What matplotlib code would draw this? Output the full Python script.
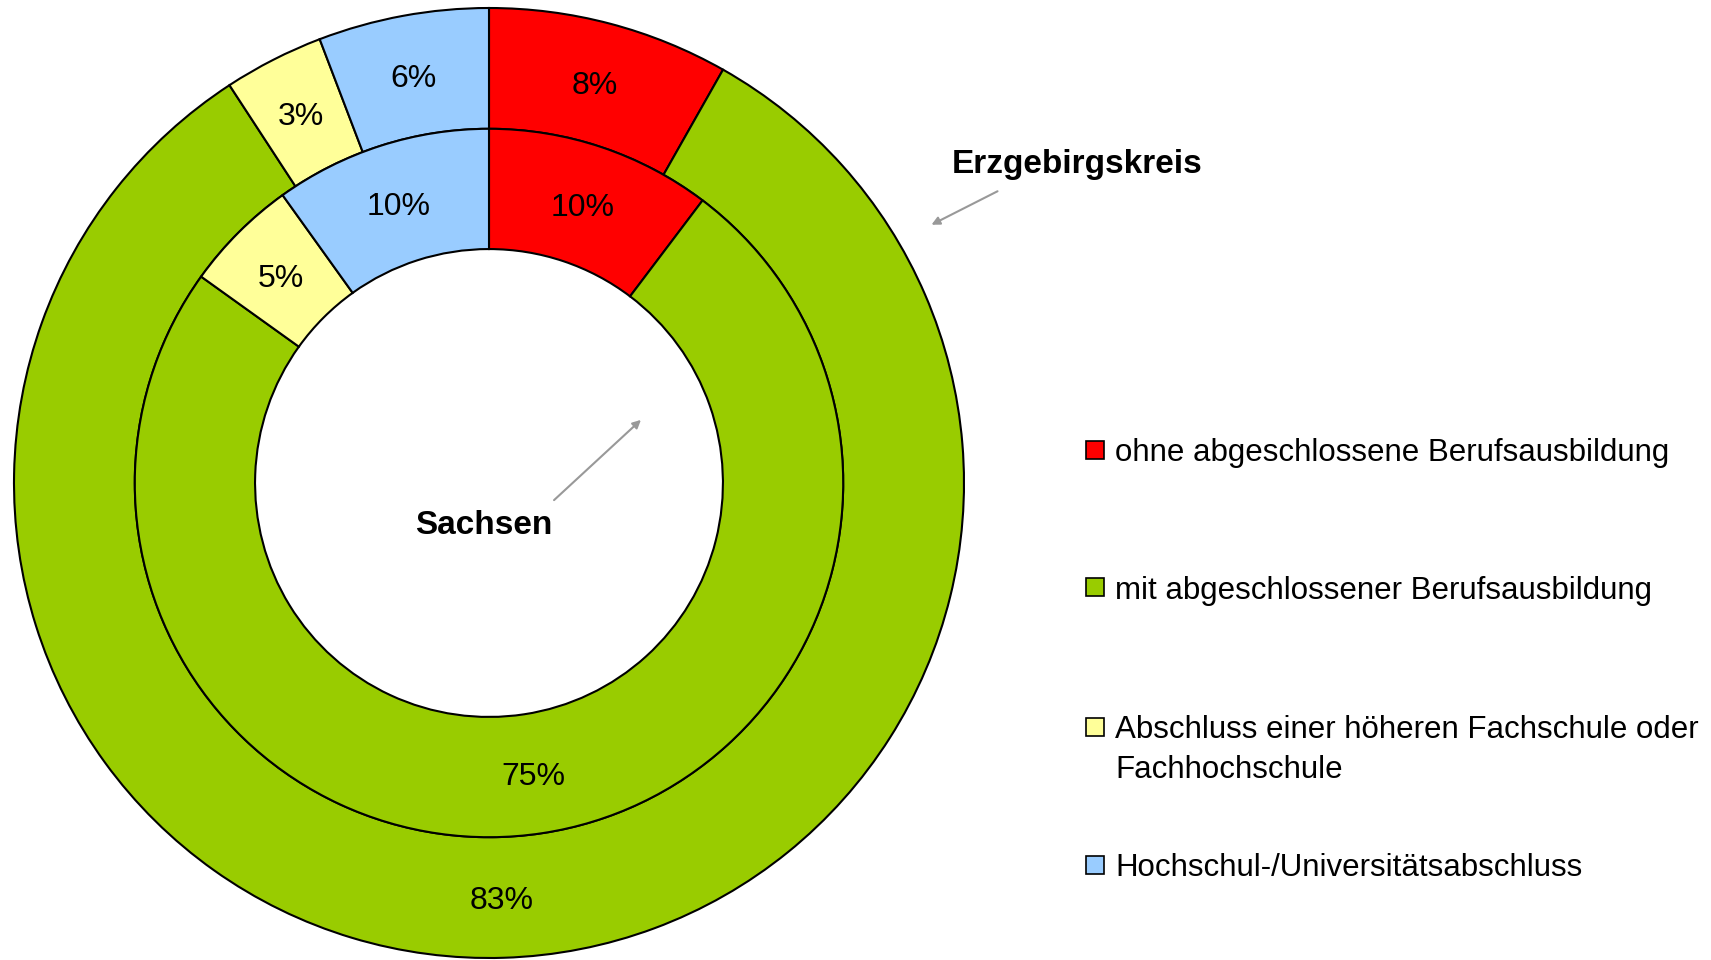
import matplotlib
matplotlib.use("Agg")
import matplotlib.pyplot as plt
from matplotlib.patches import Rectangle, FancyArrowPatch

plt.rcParams['font.family'] = ['Liberation Sans', 'DejaVu Sans']

categories = ["ohne abgeschlossene Berufsausbildung",
              "mit abgeschlossener Berufsausbildung",
              "Abschluss einer höheren Fachschule oder\nFachhochschule",
              "Hochschul-/Universitätsabschluss"]
erzgebirgskreis = [8.2, 82.6, 3.4, 5.8]
sachsen = [10.3, 74.6, 5.2, 9.9]
colors = ["#FF0000", "#99CC00", "#FFFF99", "#99CCFF"]

W, H = 1711, 960
fig = plt.figure(figsize=(W / 100, H / 100), dpi=100)
cx, cy, R = 489, 960 - 483, 475
ax = fig.add_axes([(cx - R) / W, (cy - R) / H, 2 * R / W, 2 * R / H])

r_out, r_mid, r_in = 1.0, 0.7457, 0.4925
wp = dict(edgecolor="black", linewidth=1.5)
fmt = lambda p: f"{p:.0f}%"
FS = 22.5

_, _, at1 = ax.pie(erzgebirgskreis, colors=colors, radius=r_out, startangle=90, counterclock=False,
                   wedgeprops=dict(width=r_out - r_mid, **wp), autopct=fmt,
                   pctdistance=(r_out + r_mid) / 2 / r_out, textprops=dict(fontsize=23, color="black"))
_, _, at2 = ax.pie(sachsen, colors=colors, radius=r_mid, startangle=90, counterclock=False,
                   wedgeprops=dict(width=r_mid - r_in, **wp), autopct=fmt,
                   pctdistance=(r_mid + r_in) / 2 / r_mid, textprops=dict(fontsize=23, color="black"))
for t in list(at1) + list(at2):
    t.set_va("center_baseline")
ax.set_xlim(-1, 1)
ax.set_ylim(-1, 1)
ax.axis("off")

# annotations
fig.text(1077 / W, 1 - 165 / H, "Erzgebirgskreis", fontsize=24, fontweight="bold",
         ha="center", va="center")
fig.text(484 / W, 1 - 526 / H, "Sachsen", fontsize=24, fontweight="bold",
         ha="center", va="center")
arrow = dict(arrowstyle="-|>", color="#999999", lw=1.5, mutation_scale=12)
fig.add_artist(FancyArrowPatch((1000 / W, 1 - 190 / H), (929 / W, 1 - 226 / H),
                               transform=fig.transFigure, **arrow))
fig.add_artist(FancyArrowPatch((552 / W, 1 - 502 / H), (643 / W, 1 - 418 / H),
                               transform=fig.transFigure, **arrow))

# legend
rows = [450, 587, 727, 865]
line_gap = 39
sq = 18
for cat, col, y in zip(categories, colors, rows):
    fig.add_artist(Rectangle((1086 / W, 1 - (y + sq / 2) / H), sq / W, sq / H,
                             transform=fig.transFigure, facecolor=col,
                             edgecolor="black", linewidth=1.2))
    for i, line in enumerate(cat.split("\n")):
        fig.text(1115 / W, 1 - (y + i * line_gap) / H, line, fontsize=FS,
                 ha="left", va="center_baseline")

fig.savefig("out.png", dpi=100)
